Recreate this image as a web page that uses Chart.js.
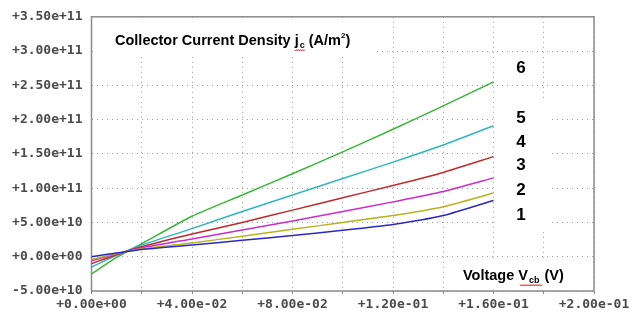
<!DOCTYPE html>
<html>
<head>
<meta charset="utf-8">
<script src="https://cdn.jsdelivr.net/npm/chart.js@4/dist/chart.umd.min.js"></script>
<style>
html,body{margin:0;padding:0;background:#fff;}
#wrap{width:637px;height:320px;position:relative;}
</style>
</head>
<body>
<div id="wrap"><canvas id="c" width="637" height="320"></canvas></div>
<script>
// Voltage V_cb (V)
const vcb = [0, 0.01, 0.02, 0.04, 0.06, 0.08, 0.10, 0.12, 0.14, 0.16];
// Collector current density j_c (A/m^2), curves 1..6
const curve1 = [0.0e11, 0.054e11, 0.105e11, 0.17e11, 0.24e11, 0.31e11, 0.385e11, 0.47e11, 0.60e11, 0.82e11];
const curve2 = [-0.04e11, 0.045e11, 0.115e11, 0.20e11, 0.30e11, 0.40e11, 0.50e11, 0.60e11, 0.73e11, 0.93e11];
const curve3 = [-0.06e11, 0.04e11, 0.13e11, 0.26e11, 0.39e11, 0.52e11, 0.66e11, 0.80e11, 0.95e11, 1.15e11];
const curve4 = [-0.10e11, 0.03e11, 0.145e11, 0.33e11, 0.50e11, 0.68e11, 0.86e11, 1.04e11, 1.23e11, 1.46e11];
const curve5 = [-0.15e11, 0.02e11, 0.17e11, 0.41e11, 0.66e11, 0.90e11, 1.14e11, 1.38e11, 1.63e11, 1.91e11];
const curve6 = [-0.25e11, -0.01e11, 0.19e11, 0.59e11, 0.90e11, 1.21e11, 1.53e11, 1.86e11, 2.20e11, 2.55e11];
const curveNames = ['1', '2', '3', '4', '5', '6'];
const xTickLabels = ['+0.00e+00', '+4.00e-02', '+8.00e-02', '+1.20e-01', '+1.60e-01', '+2.00e-01'];
const yTickLabels = ['-5.00e+10', '+0.00e+00', '+5.00e+10', '+1.00e+11', '+1.50e+11', '+2.00e+11', '+2.50e+11', '+3.00e+11', '+3.50e+11'];

const colors = ['#2a2ac0', '#b4b420', '#cc2ccc', '#bf2a2a', '#2fb6c0', '#36b836'];
const series = [curve1, curve2, curve3, curve4, curve5, curve6];

const datasets = series.map((s, i) => ({
  label: curveNames[i],
  data: vcb.map((x, k) => ({x: x, y: s[k]})),
  borderColor: colors[i],
  borderWidth: 1.5,
  pointRadius: 0,
  tension: 0.2,
  fill: false
}));

const SANS = '"Liberation Sans", Arial, sans-serif';

const decor = {
  id: 'decor',
  beforeDatasetsDraw(chart) {
    const ctx = chart.ctx;
    const a = chart.chartArea;
    ctx.save();
    ctx.fillStyle = '#fff';
    ctx.fillRect(95, 22, 279, 35);     // title box
    ctx.fillRect(496, 100, 56, 132);   // labels box
    ctx.fillRect(455, 259, a.right - 455, a.bottom - 259); // x title box
    ctx.strokeStyle = '#8a8a8a';
    ctx.lineWidth = 1.5;
    ctx.strokeRect(a.left, a.top, a.right - a.left, a.bottom - a.top);
    ctx.restore();
  },
  afterDraw(chart) {
    const ctx = chart.ctx;
    ctx.save();
    ctx.fillStyle = '#000';
    ctx.textBaseline = 'alphabetic';
    ctx.textAlign = 'left';
    // Title
    let x = 115, y = 45;
    ctx.font = 'bold 14.5px ' + SANS;
    let t = 'Collector Current Density j';
    ctx.fillText(t, x, y); x += ctx.measureText(t).width + 1;
    ctx.font = 'bold 9px ' + SANS;
    ctx.fillText('c', x, y + 3);
    ctx.strokeStyle = '#e02020'; ctx.lineWidth = 0.8; ctx.beginPath();
    for (let i = 0; i <= 10; i++) { const px = x - 5 + i; const py = y + 5 + (i % 2 ? 1 : -0.5); if (i===0) ctx.moveTo(px, py); else ctx.lineTo(px, py);} ctx.stroke();
    x += ctx.measureText('c').width + 4;
    ctx.font = 'bold 14.5px ' + SANS;
    t = '(A/m'; ctx.fillText(t, x, y); x += ctx.measureText(t).width;
    ctx.font = 'bold 8px ' + SANS; ctx.fillText('2', x, y - 7); x += ctx.measureText('2').width;
    ctx.font = 'bold 14.5px ' + SANS; ctx.fillText(')', x, y);

    // X axis title
    x = 463; y = 280;
    ctx.font = 'bold 14.5px ' + SANS;
    t = 'Voltage V'; ctx.fillText(t, x, y); x += ctx.measureText(t).width + 1;
    const sx = x;
    ctx.font = 'bold 9px ' + SANS; ctx.fillText('cb', x, y + 3); x += ctx.measureText('cb').width;
    ctx.strokeStyle = '#e02020'; ctx.lineWidth = 0.8; ctx.beginPath();
    for (let i = 0; i <= 22; i++) { const px = sx - 9 + i; const py = y + 5 + (i % 2 ? 1 : -0.5); if (i===0) ctx.moveTo(px, py); else ctx.lineTo(px, py);} ctx.stroke();
    x += 5;
    ctx.font = 'bold 14.5px ' + SANS; ctx.fillText('(V)', x, y);

    // curve number labels
    ctx.font = 'bold 17px ' + SANS;
    ctx.textAlign = 'center';
    ctx.textBaseline = 'middle';
    const ly = [215, 190, 165, 142, 118, 68];
    curveNames.forEach((n, i) => ctx.fillText(n, 521, ly[i]));
    ctx.restore();
  }
};

new Chart(document.getElementById('c'), {
  type: 'line',
  data: { datasets },
  options: {
    responsive: false,
    animation: false,
    events: [],
    layout: { padding: { top: 16, right: 43, left: 0, bottom: 0 } },
    plugins: { legend: { display: false }, tooltip: { enabled: false } },
    scales: {
      x: {
        type: 'linear',
        min: 0, max: 0.2,
        ticks: {
          stepSize: 0.02,
          autoSkip: false,
          maxRotation: 0,
          padding: 3,
          color: '#4a4a4a',
          font: { family: '"DejaVu Sans Mono", "Liberation Mono", monospace', size: 13, weight: 'bold' },
          callback: (v, i) => (i % 2 === 0 ? xTickLabels[i / 2] : '')
        },
        grid: { color: '#9a9a9a', lineWidth: 1, tickLength: 3, tickColor: '#8a8a8a', tickBorderDash: [], drawTicks: true },
        border: { display: false, dash: [1, 4] },
        afterFit(s) { s.height = 29; }
      },
      y: {
        min: -5e10, max: 3.5e11,
        ticks: {
          stepSize: 5e10,
          autoSkip: false,
          padding: 9,
          color: '#4a4a4a',
          font: { family: '"DejaVu Sans Mono", "Liberation Mono", monospace', size: 13, weight: 'bold' },
          callback: (v, i) => yTickLabels[i]
        },
        grid: { color: '#9a9a9a', lineWidth: 1, drawTicks: false },
        border: { display: false, dash: [1, 4] },
        afterFit(s) { s.width = 91.5; }
      }
    }
  },
  plugins: [decor]
});
</script>
</body>
</html>
